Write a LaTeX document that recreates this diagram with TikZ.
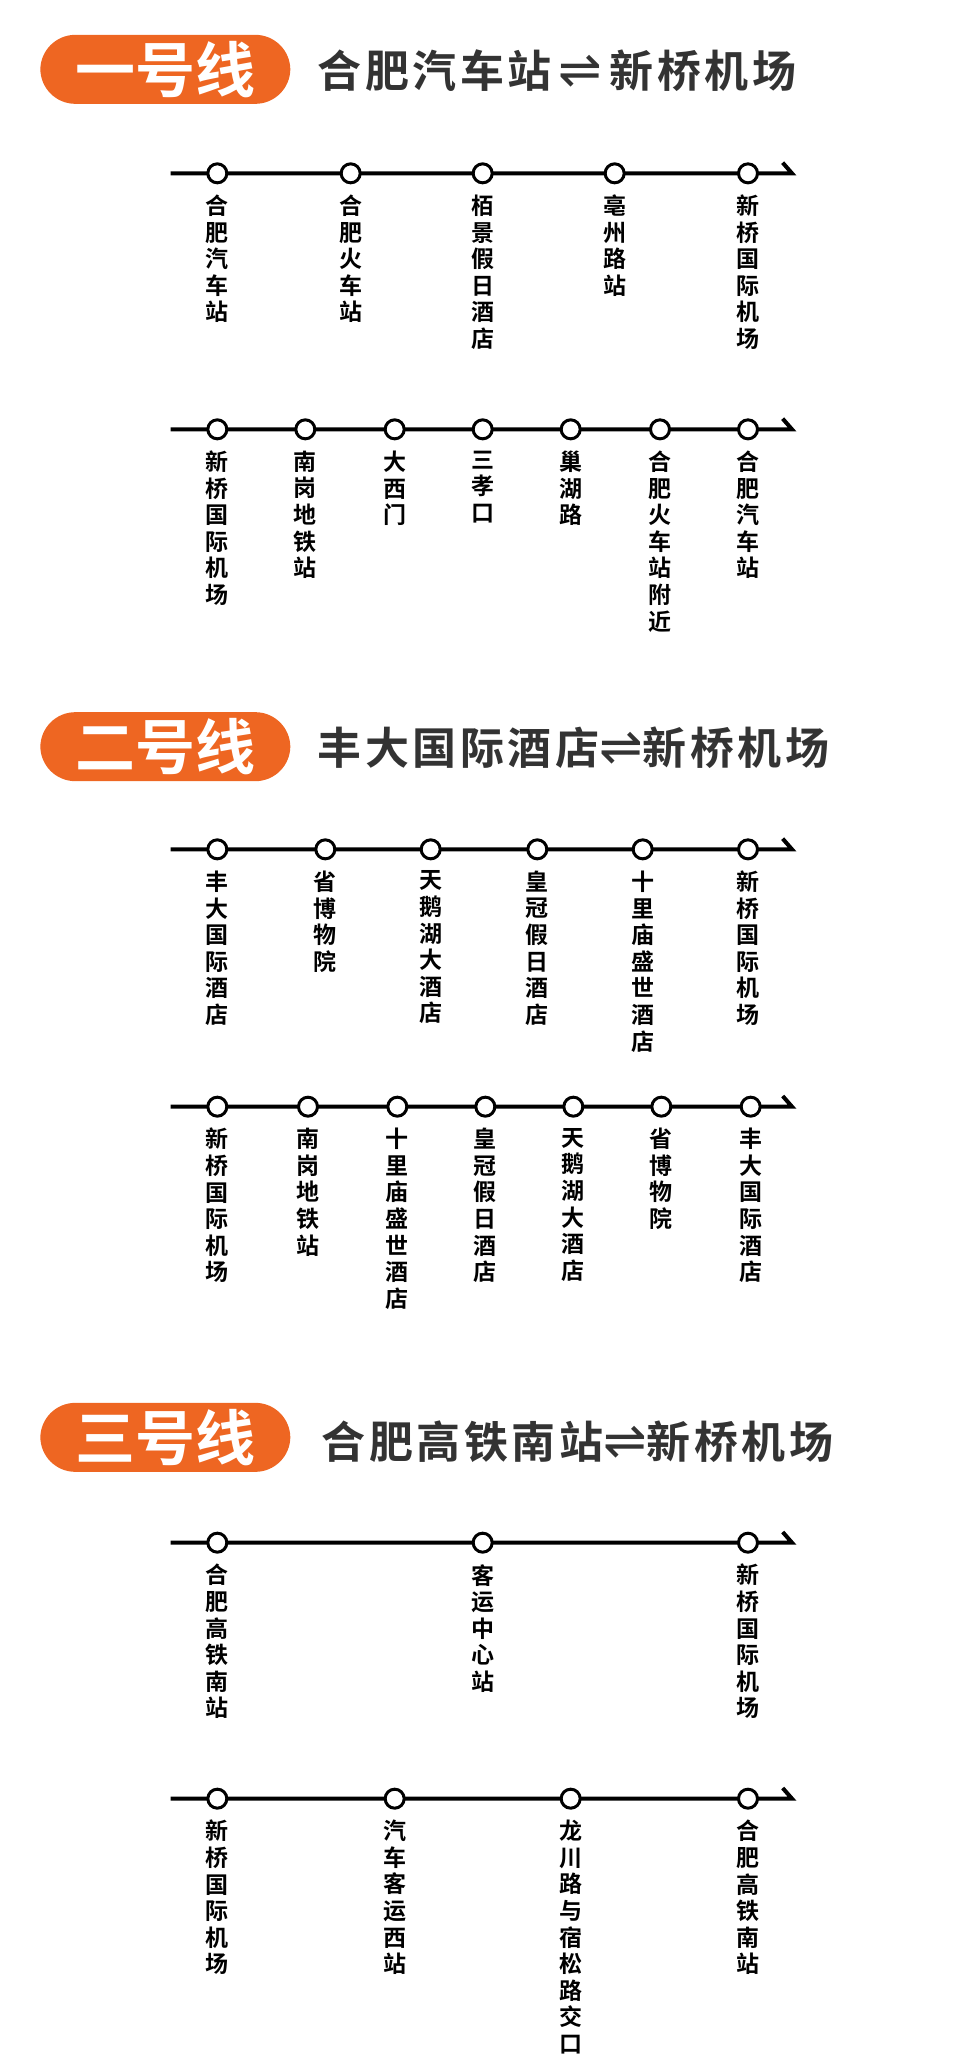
\documentclass[tikz,border=0pt]{standalone}
\usepackage{fontspec}
\setmainfont{Noto Sans CJK SC}
\newfontfamily\cjkb{Noto Sans CJK SC Bold}
\newfontfamily\djb{DejaVu Sans}
\definecolor{org}{HTML}{EE6622}
\definecolor{dk}{HTML}{333333}
\newcommand{\harp}{{\djb\fontsize{52}{52}\selectfont ⇌}}
\tikzset{
  x=1.33333pt,y=-1.33333pt,
  pill/.style={fill=org,rounded corners=35pt,minimum width=250pt,minimum height=69pt,inner sep=0pt,text=white,font=\cjkb\fontsize{60}{60}\selectfont},
  ttl/.style={anchor=west,text=dk,inner sep=0pt,font=\cjkb\fontsize{44}{44}\selectfont\addfontfeature{LetterSpace=8}},
  rail/.style={line width=4pt,black},
  stn/.style={circle,draw=black,line width=3pt,fill=white,minimum size=19pt,inner sep=0pt},
  lbl/.style={anchor=north,align=center,inner sep=0pt,font=\cjkb\fontsize{23}{26.6}\selectfont,text=black},
}
\newcommand{\railline}[3]{% name, y, list of x/label
  \coordinate (#1s) at (128,#2);
  \coordinate (#1e) at (594,#2);
  \coordinate (#1h) at (587,#2-8);
  \draw[rail,line join=miter] (#1s) -- (#1e) -- (#1h);
  \foreach \xx/\tt [count=\i] in {#3}{
    \node[stn] (#1n\i) at (\xx,#2) {};
    \node[lbl] (#1l\i) at (\xx,#2+16) {\tt};
  }
}
\begin{document}
\begin{tikzpicture}
\useasboundingbox (0,0) rectangle (720,1550.25);
\node[pill] (p1) at (124,52) {一号线};
\node[ttl] (t1) at (238,53) {合肥汽车站\,\harp\,新桥机场};
\railline{a}{130}{163/{合\\肥\\汽\\车\\站},263/{合\\肥\\火\\车\\站},362/{栢\\景\\假\\日\\酒\\店},461/{亳\\州\\路\\站},561/{新\\桥\\国\\际\\机\\场}}
\railline{b}{322}{163/{新\\桥\\国\\际\\机\\场},229/{南\\岗\\地\\铁\\站},296/{大\\西\\门},362/{三\\孝\\口},428/{巢\\湖\\路},495/{合\\肥\\火\\车\\站\\附\\近},561/{合\\肥\\汽\\车\\站}}
\node[pill] (p2) at (124,560) {二号线};
\node[ttl] (t2) at (238,561) {丰大国际酒店\harp 新桥机场};
\railline{c}{637}{163/{丰\\大\\国\\际\\酒\\店},244/{省\\博\\物\\院},323/{天\\鹅\\湖\\大\\酒\\店},403/{皇\\冠\\假\\日\\酒\\店},482/{十\\里\\庙\\盛\\世\\酒\\店},561/{新\\桥\\国\\际\\机\\场}}
\railline{d}{830}{163/{新\\桥\\国\\际\\机\\场},231/{南\\岗\\地\\铁\\站},298/{十\\里\\庙\\盛\\世\\酒\\店},364/{皇\\冠\\假\\日\\酒\\店},430/{天\\鹅\\湖\\大\\酒\\店},496/{省\\博\\物\\院},563/{丰\\大\\国\\际\\酒\\店}}
\node[pill] (p3) at (124,1078) {三号线};
\node[ttl] (t3) at (241,1081) {合肥高铁南站\harp 新桥机场};
\railline{e}{1157}{163/{合\\肥\\高\\铁\\南\\站},362/{客\\运\\中\\心\\站},561/{新\\桥\\国\\际\\机\\场}}
\railline{f}{1349}{163/{新\\桥\\国\\际\\机\\场},296/{汽\\车\\客\\运\\西\\站},428/{龙\\川\\路\\与\\宿\\松\\路\\交\\口},561/{合\\肥\\高\\铁\\南\\站}}
\end{tikzpicture}
\end{document}
